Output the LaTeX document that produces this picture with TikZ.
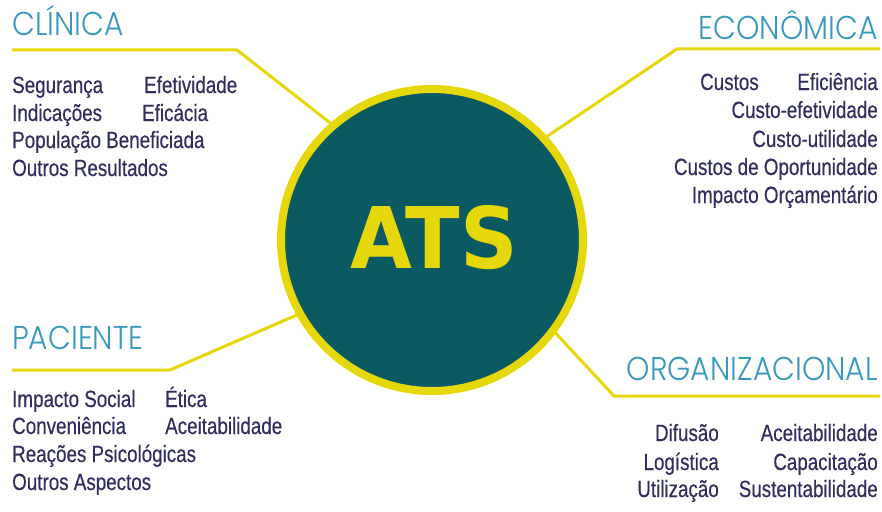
\documentclass[tikz,border=0pt]{standalone}
\usepackage{fontspec}
\usetikzlibrary{backgrounds}
\newfontfamily\titlefont{Poppins Light}[FakeStretch=0.9]
\newfontfamily\bodyfont{Liberation Sans}[FakeStretch=0.8, FakeBold=0.4]
\newfontfamily\logofont{DejaVu Sans}[FakeStretch=0.94]
\definecolor{atsteal}{HTML}{0B5A61}
\definecolor{atsyellow}{HTML}{E6D70A}
\definecolor{headblue}{HTML}{3898BE}
\definecolor{itemink}{HTML}{2E2F5E}
\tikzset{
  head/.style={inner sep=0pt, font=\titlefont\fontsize{33}{33}\selectfont, text=headblue},
  item/.style={inner sep=0pt, font=\bodyfont\fontsize{23.5}{23.5}\selectfont, text=itemink},
  spoke/.style={draw=atsyellow, line width=3pt, shorten >=-6pt},
  hub/.style={circle, draw=atsyellow, line width=8pt, fill=atsteal, minimum size=302pt, inner sep=0pt},
}
\begin{document}
\begin{tikzpicture}[x=1pt, y=-1pt]
\useasboundingbox (0,0) rectangle (882,511);

% central disc
\node[hub] (ats) at (432,240) {};
\node[inner sep=0pt, anchor=base, text=atsyellow, font=\logofont\bfseries\fontsize{85}{85}\selectfont] (atslabel) at (434,268) {ATS};

% spokes from the headings to the disc
\coordinate (clinA) at (12,50);
\coordinate (clinB) at (237,50);
\coordinate (econA) at (880,49);
\coordinate (econB) at (677,49);
\coordinate (pacA) at (12,370);
\coordinate (pacB) at (170,370);
\coordinate (orgA) at (880,396);
\coordinate (orgB) at (614,396);
\begin{scope}[on background layer]
  \draw[spoke] (clinA) -- (clinB) -- (ats.131);
  \draw[spoke] (econA) -- (econB) -- (ats.42);
  \draw[spoke] (pacA) -- (pacB) -- (ats.209);
  \draw[spoke] (orgA) -- (orgB) -- (ats.323);
\end{scope}

% headings
\node[head, anchor=base west] (hclin) at (12,36) {CLÍNICA};
\node[head, anchor=base east] (hecon) at (878,40) {ECONÔMICA};
\node[head, anchor=base west] (hpac) at (12,349) {PACIENTE};
\node[head, anchor=base east] (horg) at (878,380) {ORGANIZACIONAL};

% clinical dimension
\node[item, anchor=base west] (c1) at (12,93) {Segurança};
\node[item, anchor=base west] (c2) at (144,93) {Efetividade};
\node[item, anchor=base west] (c3) at (12,121) {Indicações};
\node[item, anchor=base west] (c4) at (142,121) {Eficácia};
\node[item, anchor=base west] (c5) at (12,148) {População Beneficiada};
\node[item, anchor=base west] (c6) at (12,176) {Outros Resultados};

% economic dimension
\node[item, anchor=base west] (e1) at (700,90) {Custos};
\node[item, anchor=base east] (e2) at (878,90) {Eficiência};
\node[item, anchor=base east] (e3) at (878,118) {Custo-efetividade};
\node[item, anchor=base east] (e4) at (878,147) {Custo-utilidade};
\node[item, anchor=base east] (e5) at (878,175) {Custos de Oportunidade};
\node[item, anchor=base east] (e6) at (878,203) {Impacto Orçamentário};

% patient dimension
\node[item, anchor=base west] (p1) at (12,407) {Impacto Social};
\node[item, anchor=base west] (p2) at (165,407) {Ética};
\node[item, anchor=base west] (p3) at (12,434) {Conveniência};
\node[item, anchor=base west] (p4) at (165,434) {Aceitabilidade};
\node[item, anchor=base west] (p5) at (12,462) {Reações Psicológicas};
\node[item, anchor=base west] (p6) at (12,490) {Outros Aspectos};

% organisational dimension
\node[item, anchor=base east] (o1) at (719,441) {Difusão};
\node[item, anchor=base east] (o2) at (878,441) {Aceitabilidade};
\node[item, anchor=base east] (o3) at (719,470) {Logística};
\node[item, anchor=base east] (o4) at (878,470) {Capacitação};
\node[item, anchor=base east] (o5) at (719,497) {Utilização};
\node[item, anchor=base east] (o6) at (878,497) {Sustentabilidade};
\end{tikzpicture}
\end{document}
